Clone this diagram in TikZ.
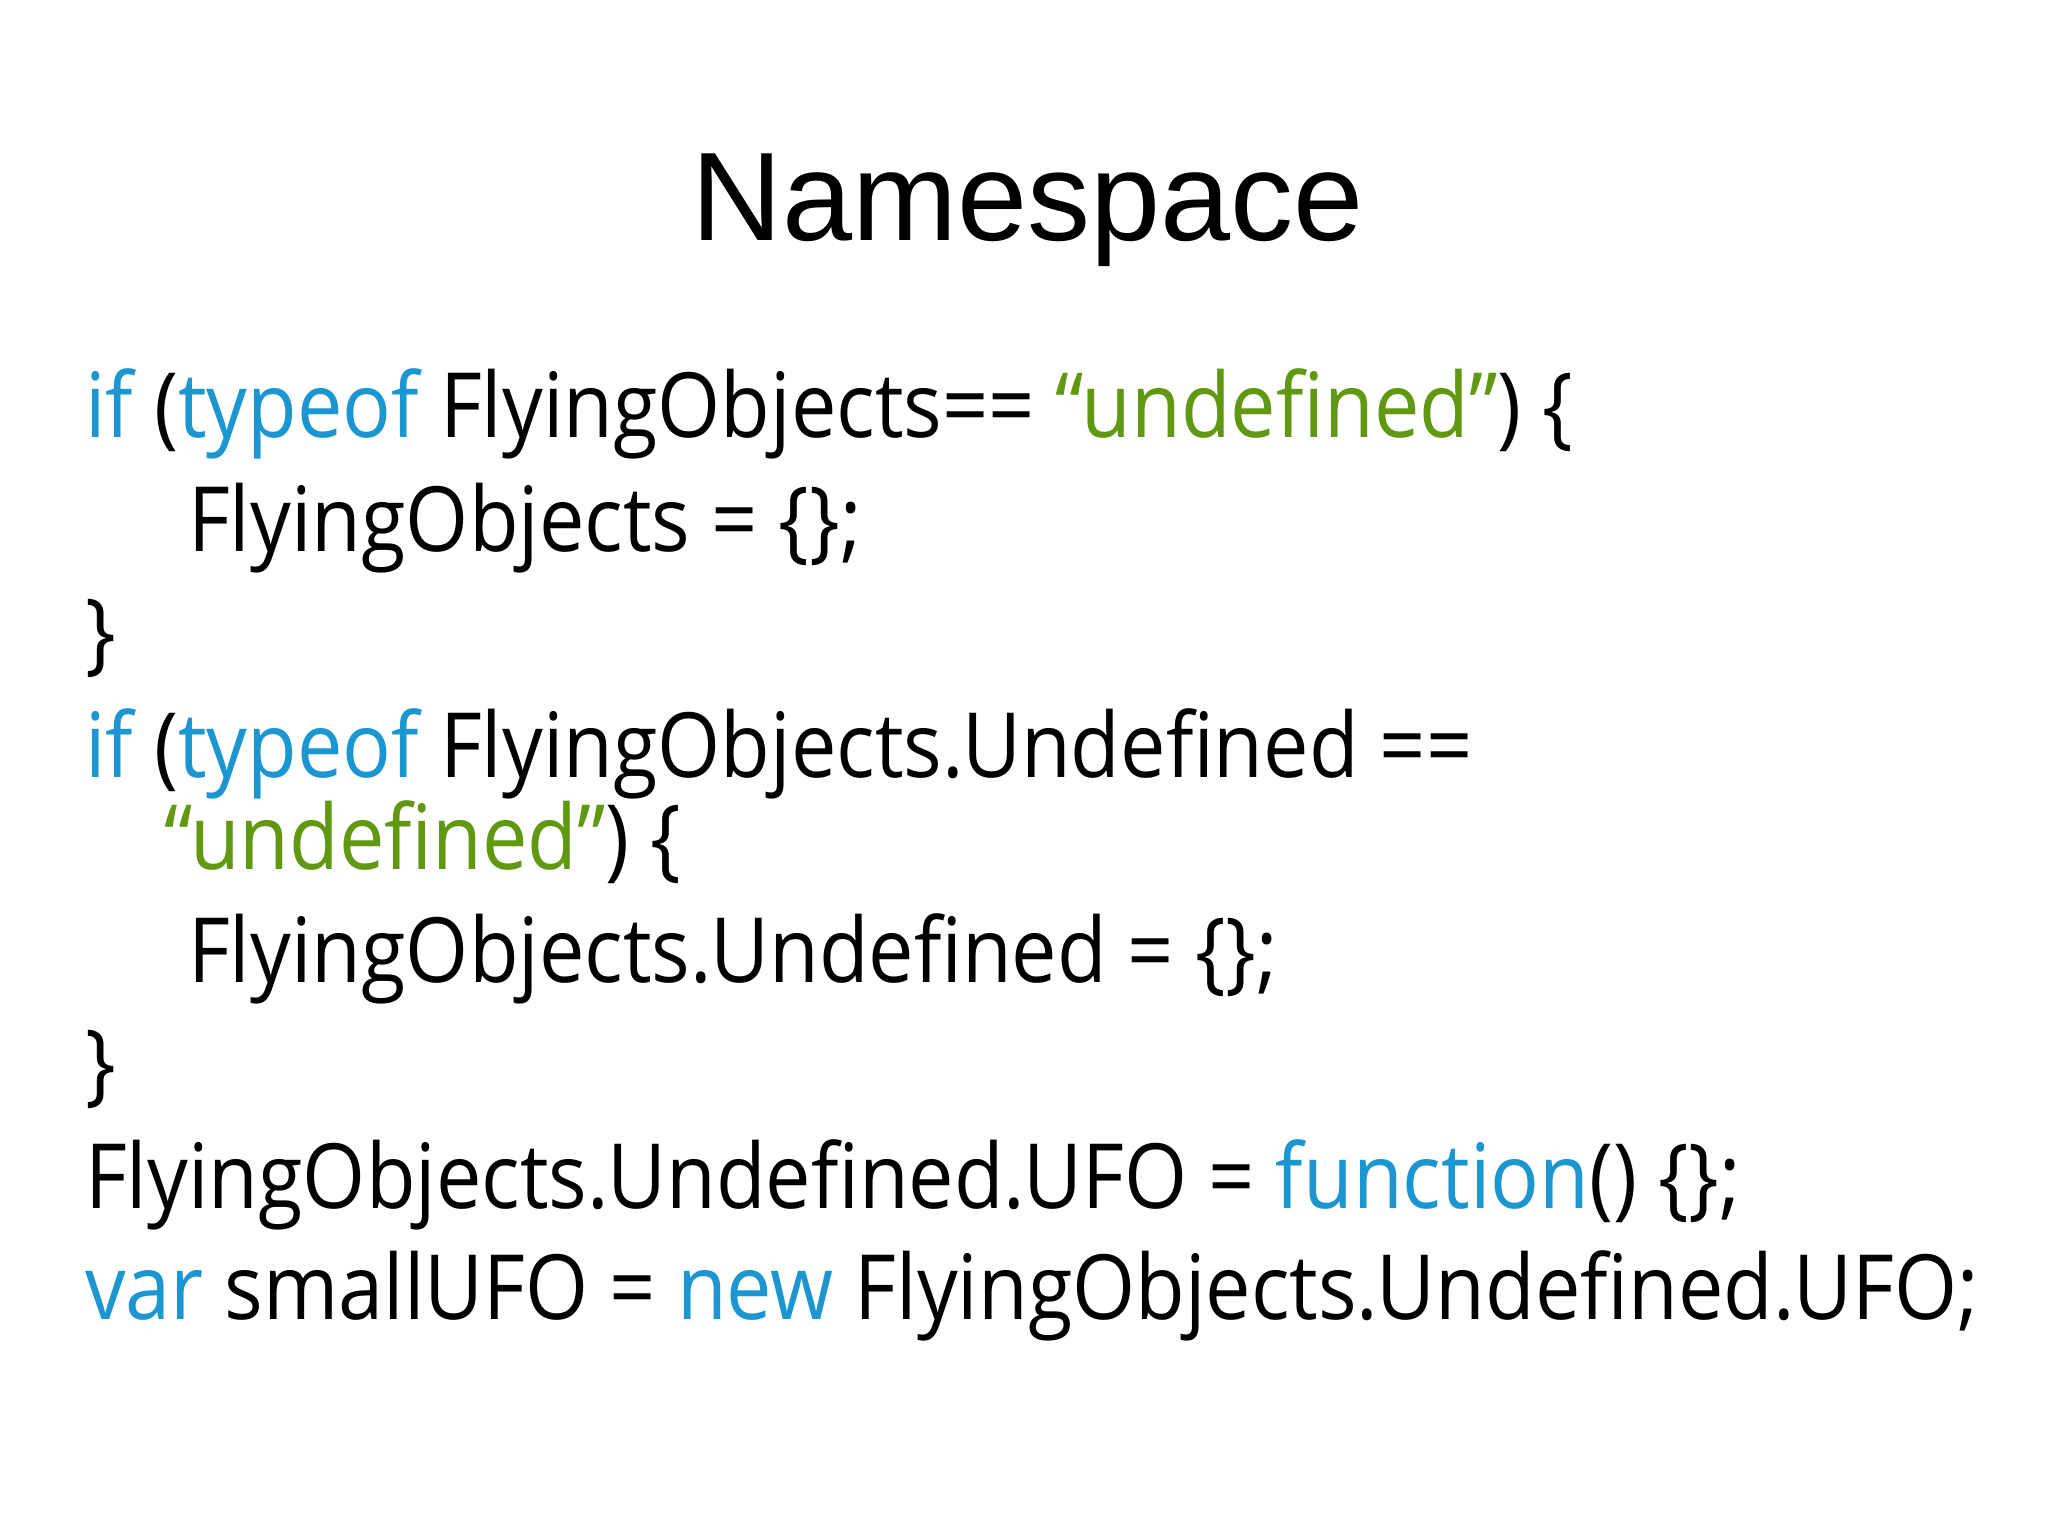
\documentclass[tikz,border=0pt]{standalone}
\usepackage{fontspec}
\setmainfont{Liberation Sans}
\newfontfamily\codefont[FakeStretch=0.9]{Open Sans}
\definecolor{kw}{RGB}{27,150,208}
\definecolor{st}{RGB}{96,152,18}
\begin{document}
\begin{tikzpicture}[x=1pt,y=-1pt]
\tikzset{code/.style={anchor=base west,inner sep=0pt,font=\codefont\fontsize{90}{90}\selectfont},
 ttl/.style={anchor=base,inner sep=0pt,font=\fontsize{126}{126}\selectfont}}
\useasboundingbox[fill=white] (0,0) rectangle (2048,1536);
\node[ttl] (t) at (1028,240) {Namespace};
\node[code] (l1) at (85,437) {\textcolor{kw}{if} (\textcolor{kw}{typeof} FlyingObjects== \textcolor{st}{“undefined”}) \{};
\node[code] (l2) at (188,551) {FlyingObjects = \{\};};
\node[code] (l3) at (85,663) {\}};
\node[code] (l4) at (85,777) {\textcolor{kw}{if} (\textcolor{kw}{typeof} FlyingObjects.Undefined ==};
\node[code] (l5) at (164,869) {\textcolor{st}{“undefined”}) \{};
\node[code] (l6) at (188,982) {FlyingObjects.Undefined = \{\};};
\node[code] (l7) at (85,1094) {\}};
\node[code] (l8) at (85,1208) {FlyingObjects.Undefined.UFO = \textcolor{kw}{function}() \{\};};
\node[code] (l9) at (85,1319) {\textcolor{kw}{var} smallUFO = \textcolor{kw}{new} FlyingObjects.Undefined.UFO;};
\end{tikzpicture}
\end{document}
